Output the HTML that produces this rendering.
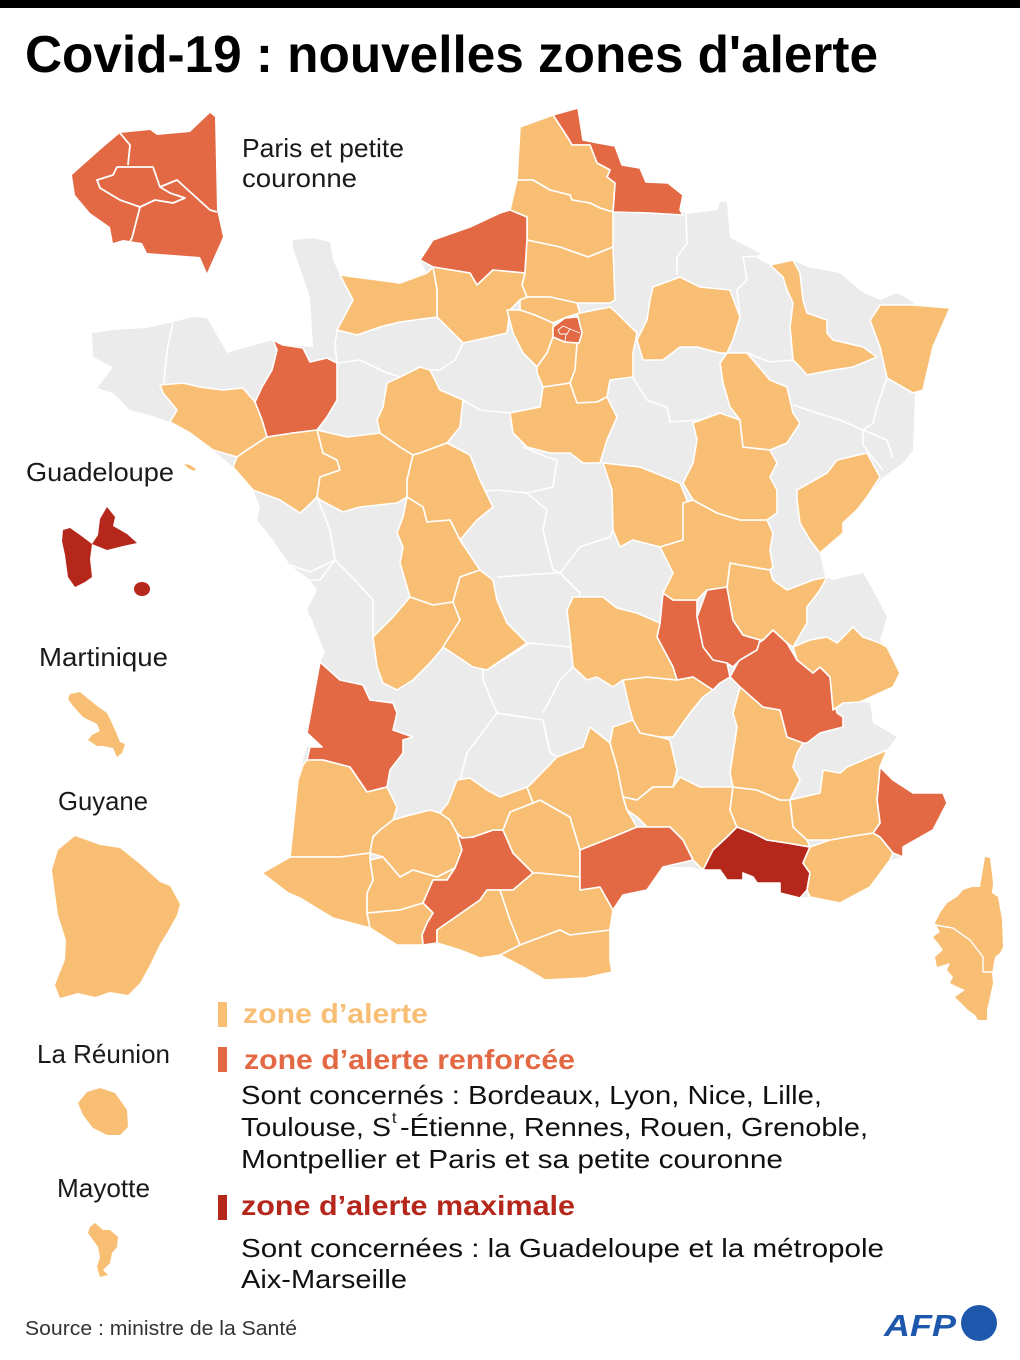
<!DOCTYPE html>
<html>
<head>
<meta charset="utf-8">
<style>
  html,body{margin:0;padding:0;background:#fff;}
  svg{display:block;}
  text{font-family:"Liberation Sans",sans-serif;}
</style>
</head>
<body>
<svg width="1020" height="1360" viewBox="0 0 1020 1360" xmlns="http://www.w3.org/2000/svg">
  <rect x="0" y="0" width="1020" height="1360" fill="#ffffff"/>
  <rect x="0" y="0" width="1020" height="8" fill="#000"/>

  <text x="25" y="72" font-size="52" font-weight="bold" fill="#000" textLength="853" lengthAdjust="spacingAndGlyphs">Covid-19 : nouvelles zones d'alerte</text>

  <!-- Mainland outline (gray) -->
  <polygon fill="#ebebeb" points="553,115 578,108 583,140 598,143 615,146 622,165 640,168 646,182 668,183 683,195 680,210 686,214 718,210 720,202 727,202 730,238 760,253 757,258 770,265 793,260 807,267 840,273 862,292 880,300 897,293 910,300 915,305 950,308 933,347 923,390 915,393 913,450 903,463 883,477 867,497 857,510 843,523 843,533 820,553 825,577 833,580 863,573 873,590 887,617 880,640 887,647 900,673 893,687 860,702 870,703 873,723 897,737 887,750 880,767 893,780 913,793 943,793 947,803 933,830 903,847 903,857 890,860 870,887 840,903 810,897 800,898 780,893 780,883 757,883 753,877 743,873 743,880 727,880 720,870 703,870 690,867 663,867 647,890 623,895 613,910 610,930 610,960 612,972 585,978 545,980 525,968 500,955 480,958 460,950 437,943 423,945 397,945 370,928 333,918 300,898 288,893 262,873 290,857 298,780 303,760 307,747 322,747 307,733 320,662 325,653 312,620 307,610 317,590 310,580 290,565 273,540 257,520 260,507 253,490 233,467 213,450 190,433 170,422 150,415 130,410 113,393 97,388 113,367 93,357 92,333 113,330 147,328 173,322 193,317 207,318 227,353 247,347 273,340 283,345 313,347 310,297 293,248 293,240 313,238 330,242 333,260 340,275 400,283 427,273 420,260 433,240 470,227 500,213 510,210 513,197 517,180 520,127"/>

  <!-- gray internal boundaries -->
  <g fill="none" stroke="#fff" stroke-width="1.6" stroke-linejoin="round">
    <polyline points="173,322 168,345 165,370 163,393"/>
    <polyline points="337,330 335,345 337,363"/>
    <polyline points="337,363 360,360 385,372 400,377"/>
    <polyline points="463,343 455,360 440,370 430,370"/>
    <polyline points="440,390 463,400 480,410 510,413"/>
    <polyline points="463,493 497,490 527,493 553,487 557,460 547,457 523,447"/>
    <polyline points="527,493 547,510 543,530 553,570 560,573"/>
    <polyline points="497,577 553,573 560,573 580,593 570,637"/>
    <polyline points="560,573 580,547 610,537 613,530"/>
    <polyline points="487,670 530,643 570,647"/>
    <polyline points="573,667 560,680 543,713"/>
    <polyline points="483,670 483,680 497,713 543,720 550,753 557,757"/>
    <polyline points="497,713 467,753 460,780"/>
    <polyline points="317,497 330,530 335,560 320,580 310,580"/>
    <polyline points="335,560 355,580 373,600 373,637"/>
    <polyline points="290,565 310,572 335,560"/>
    <polyline points="686,214 687,243 677,257 677,275"/>
    <polyline points="758,256 743,257 747,280 737,290 740,317"/>
    <polyline points="747,353 770,362 793,360"/>
    <polyline points="793,405 817,413 840,420 863,430"/>
    <polyline points="887,378 877,407 873,423 863,430 863,445 872,457 883,470"/>
    <polyline points="863,430 887,440 893,458"/>
    <polyline points="633,378 647,400 667,407 670,422 700,420 720,413"/>
  </g>

  <!-- Colored departments -->
  <g stroke="#fff" stroke-width="1.6" stroke-linejoin="round">
    <polygon fill="#e26944" points="553,115 578,108 583,140 598,143 615,146 622,165 640,168 646,182 668,183 683,195 680,210 683,215 650,213 613,212 615,183 607,177 610,170 597,163 590,145 572,145 568,138"/>
    <polygon fill="#f8bf74" points="520,127 553,115 568,138 572,145 590,145 597,163 610,170 607,177 615,183 613,212 600,208 590,203 572,200 570,195 550,190 533,180 517,180"/>
    <polygon fill="#f8bf74" points="517,180 533,180 550,190 570,195 572,200 590,203 600,208 613,212 613,247 588,257 560,247 527,240 527,217 510,210 513,197"/>
    <polygon fill="#e26944" points="420,260 433,240 470,227 500,213 510,210 527,217 527,240 525,273 493,270 477,285 470,273 433,267"/>
    <polygon fill="#f8bf74" points="527,240 560,247 588,257 613,247 615,300 610,303 577,303 550,297 527,297 522,285 525,273"/>
    <polygon fill="#f8bf74" points="433,267 470,273 477,285 493,270 525,273 522,285 527,297 520,300 510,310 507,333 490,337 463,343 437,317 437,290"/>
    <polygon fill="#f8bf74" points="340,275 400,283 427,273 433,267 437,290 437,317 400,322 380,327 357,335 337,330 353,300"/>
    <polygon fill="#e26944" points="273,340 283,345 303,348 310,362 327,358 337,363 337,400 327,417 317,430 293,433 267,437 262,420 255,402 262,387 272,370 277,350"/>
    <polygon fill="#f8bf74" points="160,385 183,383 200,387 223,390 243,388 255,402 262,420 267,437 247,450 237,457 213,450 190,433 170,422 177,410 163,393"/>
    <polygon fill="#f8bf74" points="267,437 293,433 317,430 323,453 337,460 340,470 320,477 317,497 307,507 300,513 280,500 253,490 233,467 237,457 247,450"/>
    <polygon fill="#f8bf74" points="317,430 347,437 380,433 400,447 413,455 407,480 407,497 397,503 360,507 343,512 320,500 317,497 320,477 340,470 337,460 323,453"/>
    <polygon fill="#f8bf74" points="387,383 400,377 420,367 430,370 440,390 463,400 460,427 447,443 420,453 413,455 400,447 380,433 377,420 383,407"/>
    <polygon fill="#f8bf74" points="413,455 420,453 447,443 470,455 480,480 493,507 477,520 460,540 450,520 427,522 423,507 407,497 407,480"/>
    <polygon fill="#f8bf74" points="407,497 423,507 427,522 450,520 460,540 480,570 460,577 453,602 433,605 410,597 400,563 403,547 397,533 403,517"/>
    <polygon fill="#f8bf74" points="373,637 393,617 410,597 433,605 453,602 460,620 447,643 430,663 413,680 397,690 383,683 377,667"/>
    <polygon fill="#f8bf74" points="453,602 460,577 480,570 493,580 497,600 507,623 527,643 487,670 473,667 443,647 460,620"/>
    <polygon fill="#e26944" points="320,662 340,680 363,685 370,700 393,703 397,713 393,730 413,737 403,740 403,753 390,770 387,787 367,792 350,767 323,760 307,760 310,747 322,747 307,733"/>
    <polygon fill="#f8bf74" points="307,760 323,760 350,767 367,792 387,787 397,807 393,820 380,830 373,837 370,853 340,857 307,857 290,857 298,780 303,765"/>
    <polygon fill="#f8bf74" points="393,820 403,817 430,810 440,813 450,820 457,833 462,850 455,868 437,877 413,870 400,877 383,857 370,853 373,837 380,830"/>
    <polygon fill="#f8bf74" points="383,857 400,877 413,870 437,877 455,868 447,880 433,880 423,903 400,910 367,913 367,893 373,880 370,860"/>
    <polygon fill="#e26944" points="457,833 462,838 473,837 493,830 503,830 513,853 533,873 513,890 500,890 487,890 480,900 470,907 447,923 437,930 437,943 423,945 422,935 427,923 433,913 423,903 433,880 447,880 455,868 462,850"/>
    <polygon fill="#f8bf74" points="262,873 290,857 307,857 340,857 370,853 370,860 373,880 367,893 367,913 370,928 333,918 300,898 288,893"/>
    <polygon fill="#f8bf74" points="367,913 400,910 423,903 433,913 427,923 422,935 423,945 397,945 370,928"/>
    <polygon fill="#f8bf74" points="437,930 447,923 470,907 480,900 487,890 500,890 505,905 510,920 520,945 500,955 480,958 460,950 437,943"/>
    <polygon fill="#f8bf74" points="500,890 513,890 533,873 540,873 580,877 580,890 600,887 613,910 610,930 570,935 560,930 520,945 510,920 505,905"/>
    <polygon fill="#f8bf74" points="520,945 560,930 570,935 610,930 610,960 612,972 585,978 545,980 525,968 500,955"/>
    <polygon fill="#f8bf74" points="503,830 510,812 533,803 540,800 570,817 577,840 580,850 580,877 540,873 533,873 513,853"/>
    <polygon fill="#f8bf74" points="448,803 457,780 470,778 487,790 500,797 527,787 533,803 510,812 503,830 493,830 473,837 462,838 457,833 450,820 440,813"/>
    <polygon fill="#f8bf74" points="527,787 530,785 557,757 583,747 590,727 610,743 617,767 623,797 627,810 637,827 613,837 580,850 577,840 570,817 540,800 533,803"/>
    <polygon fill="#f8bf74" points="610,743 613,727 633,720 640,733 660,737 670,740 677,770 673,787 653,787 637,800 623,797 617,767"/>
    <polygon fill="#f8bf74" points="623,797 637,800 653,787 673,787 680,777 700,787 733,787 730,810 737,827 727,837 713,850 703,870 693,860 683,840 670,827 647,827 637,817 627,810"/>
    <polygon fill="#e26944" points="580,850 613,837 637,827 647,827 670,827 683,840 693,860 663,867 647,890 623,895 613,910 600,887 580,890"/>
    <polygon fill="#b6271b" points="737,827 753,833 767,840 787,843 810,847 803,863 810,873 807,890 800,898 780,893 780,883 757,883 753,877 743,873 743,880 727,880 720,870 703,870 713,850 727,837"/>
    <polygon fill="#f8bf74" points="733,787 757,790 780,800 790,800 793,827 807,840 810,847 787,843 767,840 753,833 737,827 730,810"/>
    <polygon fill="#f8bf74" points="810,847 830,840 847,837 873,833 880,837 893,853 890,860 870,887 840,903 810,897 807,890 810,873 803,863"/>
    <polygon fill="#e26944" points="880,767 893,780 913,793 943,793 947,803 933,830 903,847 903,857 893,853 880,837 873,833 880,823 877,800"/>
    <polygon fill="#f8bf74" points="790,800 820,793 823,770 840,773 847,767 887,750 880,767 877,800 880,823 873,833 847,837 830,840 807,840 793,827"/>
    <polygon fill="#f8bf74" points="740,687 763,707 780,710 787,737 803,743 797,753 793,767 800,780 790,800 780,800 757,790 733,787 730,773 737,727 733,713"/>
    <polygon fill="#e26944" points="730,677 743,653 763,640 773,630 787,643 797,660 813,673 820,667 830,677 837,713 843,717 843,727 820,733 807,743 803,743 787,737 780,710 763,707 740,687"/>
    <polygon fill="#e26944" points="707,590 727,587 733,620 743,635 760,640 757,650 740,660 733,667 727,663 713,660 703,647 697,617"/>
    <polygon fill="#e26944" points="663,593 673,600 697,600 697,617 703,647 713,660 727,663 730,677 720,683 713,690 693,677 677,680 673,667 657,637 660,623"/>
    <polygon fill="#f8bf74" points="730,563 770,570 773,580 787,590 813,580 827,577 820,590 807,607 807,623 793,647 787,643 773,630 763,640 760,640 743,635 733,620 727,587"/>
    <polygon fill="#f8bf74" points="797,660 793,647 810,640 827,637 837,643 853,627 863,637 880,643 887,647 900,673 893,687 860,702 843,703 833,710 830,677 820,667 813,673"/>
    <polygon fill="#f8bf74" points="623,680 647,677 677,680 693,677 713,690 703,697 690,713 673,737 660,737 640,733 633,720 630,710"/>
    <polygon fill="#f8bf74" points="573,597 603,597 617,608 637,613 660,623 657,637 673,667 677,680 647,677 623,680 613,687 597,677 587,680 573,667 570,637 567,610"/>
    <polygon fill="#f8bf74" points="603,463 640,467 680,483 687,500 683,540 660,547 633,540 620,547 613,530 612,490"/>
    <polygon fill="#f8bf74" points="683,503 693,500 717,513 740,520 767,520 773,533 770,550 773,567 770,570 740,565 730,563 727,587 707,590 697,600 673,600 663,593 673,573 660,547 683,540"/>
    <polygon fill="#f8bf74" points="693,423 720,413 740,420 743,447 770,450 777,463 770,477 777,490 777,513 767,520 740,520 717,513 693,500 683,483 693,463 697,440"/>
    <polygon fill="#f8bf74" points="797,490 827,473 837,460 867,453 880,477 867,497 857,510 843,523 843,533 820,553 810,540 800,523 797,500"/>
    <polygon fill="#f8bf74" points="720,363 727,353 747,353 770,380 787,387 793,413 800,423 787,443 770,450 743,447 740,420 730,407 723,383"/>
    <polygon fill="#f8bf74" points="653,287 680,277 700,287 730,290 740,317 733,340 727,353 720,353 697,347 680,347 663,360 643,360 637,340 647,320 650,300"/>
    <polygon fill="#f8bf74" points="770,265 793,260 800,273 803,300 807,313 827,320 827,333 833,340 863,347 877,357 853,367 833,370 807,375 800,367 793,360 790,327 793,303 787,290 783,277"/>
    <polygon fill="#f8bf74" points="877,310 880,305 913,305 950,308 933,347 923,390 913,393 887,378 883,360 880,347 870,320"/>
    <polygon fill="#f8bf74" points="577,313 580,313 610,307 617,313 637,333 633,353 633,377 610,380 607,397 597,402 577,403 570,383 573,370 575,350 580,333"/>
    <polygon fill="#f8bf74" points="510,413 540,407 543,387 570,383 577,403 597,402 607,397 617,417 607,440 600,463 583,463 570,453 550,453 527,447 513,433"/>
    <polygon fill="#f8bf74" points="520,300 527,297 550,297 577,303 580,313 567,317 553,323 535,315 520,310"/>
    <polygon fill="#f8bf74" points="507,310 520,310 535,315 553,323 555,330 553,337 547,353 537,367 523,353 513,333"/>
    <polygon fill="#f8bf74" points="553,337 565,342 577,343 575,370 570,383 543,387 537,373 537,367 547,353"/>
    <polygon fill="#e26944" points="553,327 565,318 578,317 582,333 579,343 565,342 553,337"/>
  </g>
  <g fill="none" stroke="#fff" stroke-width="0.9">
    <polygon points="558,330 563,326 570,329 567,334 560,334"/>
    <polyline points="566,334 565,342"/>
    <polyline points="570,329 580,333"/>
  </g>
  <!-- small island -->
  <polygon fill="#f8bf74" points="184,464 190,465 196,469 194,471 188,468"/>

  <!-- Corsica -->
  <polygon fill="#f8bf74" points="985,857 990,858 993,883 992,893 998,897 1002,920 1003,947 1000,953 995,957 992,973 993,983 990,997 987,1010 987,1020 978,1020 975,1015 968,1010 960,1002 955,997 965,990 958,987 950,983 953,977 947,970 950,963 937,967 935,957 943,950 938,943 933,937 940,932 935,923 940,913 947,903 957,897 963,890 972,887 980,887"/>
  <polyline fill="none" stroke="#fff" stroke-width="1.4" points="935,925 953,928 970,940 980,953 983,957 983,972 992,972"/>

  <!-- Paris inset -->
  <polygon fill="#e26944" points="120,133 150,130 157,135 190,132 210,113 215,117 217,210 223,237 207,273 200,257 147,253 142,243 123,240 113,243 110,227 90,213 75,195 72,175 100,150"/>
  <g fill="none" stroke="#fff" stroke-width="1.8" stroke-linejoin="round">
    <polyline points="120,133 130,145 128,165"/>
    <polygon points="97,180 113,175 117,167 153,167 160,187 170,193 185,198 173,203 155,200 140,207 120,200 100,188"/>
    <polyline points="160,187 177,180 210,210 217,212"/>
    <polyline points="140,207 132,238 128,245"/>
  </g>
  <text x="242" y="157" font-size="26" fill="#1a1a1a" textLength="162" lengthAdjust="spacingAndGlyphs">Paris et petite</text>
  <text x="242" y="187" font-size="26" fill="#1a1a1a" textLength="115" lengthAdjust="spacingAndGlyphs">couronne</text>

  <!-- Overseas -->
  <text x="26" y="481" font-size="26" fill="#1a1a1a" textLength="148" lengthAdjust="spacingAndGlyphs">Guadeloupe</text>
  <polygon fill="#b6271b" points="63,530 70,528 80,535 92,544 90,559 92,577 85,582 75,587 68,577 65,555 62,541"/>
  <polygon fill="#b6271b" points="92,544 98,535 100,519 107,507 115,517 113,526 127,534 137,543 123,546 107,550 97,546"/>
  <ellipse cx="142" cy="589" rx="8" ry="7" fill="#b6271b"/>

  <text x="39" y="666" font-size="26" fill="#1a1a1a" textLength="129" lengthAdjust="spacingAndGlyphs">Martinique</text>
  <polygon fill="#f8bf74" points="70,694 80,692 97,706 107,713 110,719 115,730 120,742 125,744 122,753 117,757 113,748 103,746 97,746 88,740 92,735 100,731 97,724 83,717 73,706 68,699"/>

  <text x="58" y="810" font-size="26" fill="#1a1a1a" textLength="90" lengthAdjust="spacingAndGlyphs">Guyane</text>
  <polygon fill="#f8bf74" points="75,836 100,845 120,848 140,864 160,882 170,886 180,904 177,915 167,933 160,944 150,965 140,983 128,995 110,992 95,997 78,993 60,998 55,985 65,960 66,940 58,915 55,893 52,870 58,850"/>

  <text x="37" y="1063" font-size="26" fill="#1a1a1a" textLength="133" lengthAdjust="spacingAndGlyphs">La Réunion</text>
  <polygon fill="#f8bf74" points="78,1103 87,1092 100,1088 115,1093 127,1110 128,1127 120,1135 107,1135 93,1128 83,1115"/>

  <text x="57" y="1197" font-size="26" fill="#1a1a1a" textLength="93" lengthAdjust="spacingAndGlyphs">Mayotte</text>
  <polygon fill="#f8bf74" points="90,1227 95,1223 103,1230 110,1230 118,1237 117,1247 112,1253 110,1263 103,1270 108,1275 100,1277 97,1267 100,1257 98,1247 93,1240 88,1233"/>

  <!-- Legend -->
  <rect x="218" y="1002" width="9" height="25" fill="#f8bf74"/>
  <text x="243" y="1023" font-size="28" font-weight="bold" fill="#f8bf74" textLength="185" lengthAdjust="spacingAndGlyphs">zone d’alerte</text>

  <rect x="218" y="1047" width="9" height="25" fill="#e26944"/>
  <text x="244" y="1069" font-size="28" font-weight="bold" fill="#e26944" textLength="331" lengthAdjust="spacingAndGlyphs">zone d’alerte renforcée</text>

  <text x="241" y="1104" font-size="26" fill="#111" textLength="581" lengthAdjust="spacingAndGlyphs">Sont concernés : Bordeaux, Lyon, Nice, Lille,</text>
  <text x="241" y="1136" font-size="26" fill="#111" textLength="150" lengthAdjust="spacingAndGlyphs">Toulouse, S</text>
  <text x="392" y="1123" font-size="16" fill="#111">t</text>
  <text x="400" y="1136" font-size="26" fill="#111" textLength="468" lengthAdjust="spacingAndGlyphs">-Étienne, Rennes, Rouen, Grenoble,</text>
  <text x="241" y="1168" font-size="26" fill="#111" textLength="542" lengthAdjust="spacingAndGlyphs">Montpellier et Paris et sa petite couronne</text>

  <rect x="218" y="1195" width="9" height="25" fill="#b6271b"/>
  <text x="241" y="1215" font-size="28" font-weight="bold" fill="#b6271b" textLength="334" lengthAdjust="spacingAndGlyphs">zone d’alerte maximale</text>

  <text x="241" y="1257" font-size="26" fill="#111" textLength="643" lengthAdjust="spacingAndGlyphs">Sont concernées : la Guadeloupe et la métropole</text>
  <text x="241" y="1288" font-size="26" fill="#111" textLength="166" lengthAdjust="spacingAndGlyphs">Aix-Marseille</text>

  <!-- Source & logo -->
  <text x="25" y="1335" font-size="20" fill="#333" textLength="272" lengthAdjust="spacingAndGlyphs">Source : ministre de la Santé</text>
  <text x="884" y="1336" font-size="31" font-weight="bold" font-style="italic" fill="#1e58ac" textLength="72" lengthAdjust="spacingAndGlyphs">AFP</text>
  <circle cx="979" cy="1323" r="18" fill="#1e58ac"/>
</svg>
</body>
</html>
